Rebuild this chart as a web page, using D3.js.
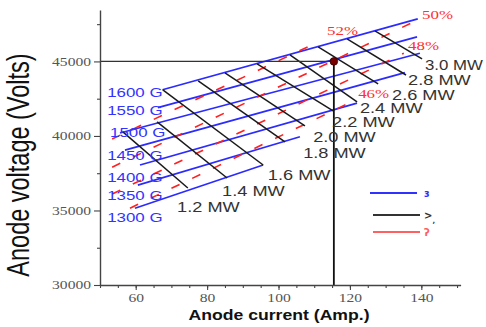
<!DOCTYPE html>
<html><head><meta charset="utf-8">
<script src="https://cdn.jsdelivr.net/npm/d3@7"></script>
<style>html,body{margin:0;padding:0;background:#fff;overflow:hidden}</style>
</head><body>
<svg id="c" width="486" height="327"></svg>
<script>
// ---------- data (anode current in A, anode voltage in V) ----------
const fieldLabels = ["1600 G","1550 G","1500 G","1450 G","1400 G","1350 G","1300 G"];
const fieldStart  = [[67.5,43100],[66.2,41900],[55.6,40200],[57.0,39050],[61.2,38050],[60.6,36700],[59.8,35150]];
const fieldEnd    = [[139.0,47850],[138.8,46650],[139.6,45550],[135.4,44250],[122.0,42200],[106.0,39950],[95.7,38050]];
const fieldLabelAt = [[52.0,42617],[52.0,41409],[52.8,39932],[52.0,38389],[52.0,36912],[52.0,35704],[52.0,34228]];

const powerLabels = ["1.2 MW","1.4 MW","1.6 MW","1.8 MW","2.0 MW","2.2 MW","2.4 MW","2.6 MW","2.8 MW","3.0 MW"];
const powerStart  = [[56.4,40270],[66.0,40940],[67.6,43090],[77.5,43690],[85.0,44230],[94.0,44830],[103.2,45435],[111.1,45970],[119.2,46510],[127.0,47045]];
const powerEnd    = [[74.6,36510],[85.6,37180],[95.7,38050],[101.8,39600],[107.4,40670],[115.3,41680],[122.0,42280],[127.9,43490],[135.7,44090],[140.2,45170]];
const powerLabelAt = [[71.6,34900],[84.2,35970],[97.0,37050],[106.9,38520],[109.7,39600],[115.0,40600],[122.8,41540],[131.8,42415],[136.3,43420],[141.0,44430]];

const effLabels = ["52%","50%","48%","46%"];
const effStart  = [[53.4,39800],[53.4,37900],[53.4,36100],[58.4,35150]];
const effEnd    = [[111.1,46300],[139.1,47800],[135.1,45550],[121.4,42400]];
const effLabelAt = [[113.6,46780],[140.2,47850],[136.3,45770],[122.3,42520]];

const opCurrent = 115.5, opVoltage = 45000;
const yTicks = [30000,35000,40000,45000];
const yMinor = [32500,37500,42500,47500];
const xTicks = [60,80,100,120,140];
const xMinor = d3.range(50,151,5);

// ---------- chart ----------
const svg = d3.select("#c");
const x = d3.scaleLinear().domain([50,151]).range([100,460.6]);
const y = d3.scaleLinear().domain([30000,48450]).range([285,10]);
const SX = 1.3;

function stext(g, px, py, str, size, fill, family, anchor, weight, sx){
  return g.append("text")
    .attr("transform", `translate(${px},${py}) scale(${sx||SX},1)`)
    .attr("text-anchor", anchor||"start")
    .attr("font-family", family)
    .attr("font-size", size)
    .attr("font-weight", weight||"normal")
    .attr("fill", fill)
    .text(str);
}

const plot = svg.append("g");
const seg = (s,e) => ({x1:x(s[0]),y1:y(s[1]),x2:x(e[0]),y2:y(e[1])});

// blue constant-field lines
fieldStart.forEach((s,i)=>{
  const p = seg(s, fieldEnd[i]);
  plot.append("line").attr("x1",p.x1).attr("y1",p.y1).attr("x2",p.x2).attr("y2",p.y2)
    .attr("stroke","#2b2bff").attr("stroke-width",1.7);
});
// red efficiency lines
effStart.forEach((s,i)=>{
  const p = seg(s, effEnd[i]);
  plot.append("line").attr("x1",p.x1).attr("y1",p.y1).attr("x2",p.x2).attr("y2",p.y2)
    .attr("stroke","#ff2020").attr("stroke-width",1.6).attr("stroke-dasharray","9,14");
});
// black power lines
powerStart.forEach((s,i)=>{
  const p = seg(s, powerEnd[i]);
  plot.append("line").attr("x1",p.x1).attr("y1",p.y1).attr("x2",p.x2).attr("y2",p.y2)
    .attr("stroke","#1a1a1a").attr("stroke-width",1.5);
});

// operating point reference lines
plot.append("line").attr("x1",x(50)).attr("x2",x(opCurrent)).attr("y1",y(opVoltage)).attr("y2",y(opVoltage))
  .attr("stroke","#333").attr("stroke-width",1.3);
plot.append("line").attr("x1",x(opCurrent)).attr("x2",x(opCurrent)).attr("y1",y(opVoltage)).attr("y2",y(30000))
  .attr("stroke","#111").attr("stroke-width",1.8);
plot.append("circle").attr("cx",x(opCurrent)).attr("cy",y(opVoltage)).attr("r",3.8)
  .attr("fill","#7a0000").attr("stroke","#300").attr("stroke-width",0.8);

// labels
const lab = svg.append("g");
fieldLabels.forEach((t,i)=> stext(lab, x(fieldLabelAt[i][0]), y(fieldLabelAt[i][1]), t, 13, "#3333ff", "Liberation Sans, Arial, sans-serif"));
powerLabels.forEach((t,i)=> stext(lab, x(powerLabelAt[i][0]), y(powerLabelAt[i][1]), t, 14, "#333", "Liberation Sans, Arial, sans-serif", "start", "normal", i===9?1.2:SX));
effLabels.forEach((t,i)=> stext(lab, x(effLabelAt[i][0]), y(effLabelAt[i][1]), t, 13, "#ff3030", "Liberation Serif, Times New Roman, serif"));

// axes
const axG = svg.append("g");
const yAxis = axG.append("g").attr("transform",`translate(${x(50)},0)`)
  .call(d3.axisLeft(y).tickValues(yTicks).tickSize(6).tickSizeOuter(0).tickPadding(3).tickFormat(d3.format("d")));
axG.append("g").attr("transform",`translate(${x(50)},0)`)
  .call(d3.axisLeft(y).tickValues(yMinor).tickSize(3).tickSizeOuter(0).tickFormat(""))
  .select(".domain").remove();
const xAxis = axG.append("g").attr("transform",`translate(0,${y(30000)})`)
  .call(d3.axisBottom(x).tickValues(xTicks).tickSize(5).tickSizeOuter(0).tickPadding(3));
axG.append("g").attr("transform",`translate(0,${y(30000)})`)
  .call(d3.axisBottom(x).tickValues(xMinor).tickSize(3).tickSizeOuter(0).tickFormat(""))
  .select(".domain").remove();

axG.selectAll(".domain").attr("stroke","#444").attr("stroke-width",1.4);
axG.selectAll(".tick line").attr("stroke","#444").attr("stroke-width",1.1);
axG.selectAll(".tick text")
  .attr("font-family","Liberation Serif, Times New Roman, serif")
  .attr("font-size",12).attr("fill","#555");
yAxis.selectAll(".tick text").attr("x",-9/SX).attr("transform",`scale(${SX},1)`);
xAxis.selectAll(".tick text").attr("transform",`scale(${SX},1)`);

// axis titles
stext(svg, 279, 320, "Anode current (Amp.)", 14, "#111", "Liberation Sans, Arial, sans-serif", "middle", "bold", 1.26);
svg.append("text")
  .attr("transform","translate(29,165) rotate(-90) scale(1,1.3)")
  .attr("text-anchor","middle")
  .attr("font-family","Liberation Sans, Arial, sans-serif")
  .attr("font-size",23.5).attr("fill","#111")
  .text("Anode voltage (Volts)");

// legend
const leg = svg.append("g");
const legendColors = ["#3030ff","#333","#ff6060"];
const legendMarks = ["ɜ", ">", "ʔ"];
const legendRows = [193,215,232];
legendRows.forEach((ry,i)=>{
  leg.append("line").attr("x1", i===0?370:373).attr("x2", i===0?417:420).attr("y1",ry).attr("y2",ry)
    .attr("stroke",legendColors[i]).attr("stroke-width",2.2);
  const t = leg.append("text").attr("x",424).attr("y",ry+4)
    .attr("font-family","DejaVu Sans, sans-serif").attr("font-size",10).attr("font-weight","bold")
    .attr("fill",legendColors[i]).text(legendMarks[i]);
  if(i===1) t.append("tspan").attr("dy",4).attr("font-size",7).text(",");
});
</script>
</body></html>
